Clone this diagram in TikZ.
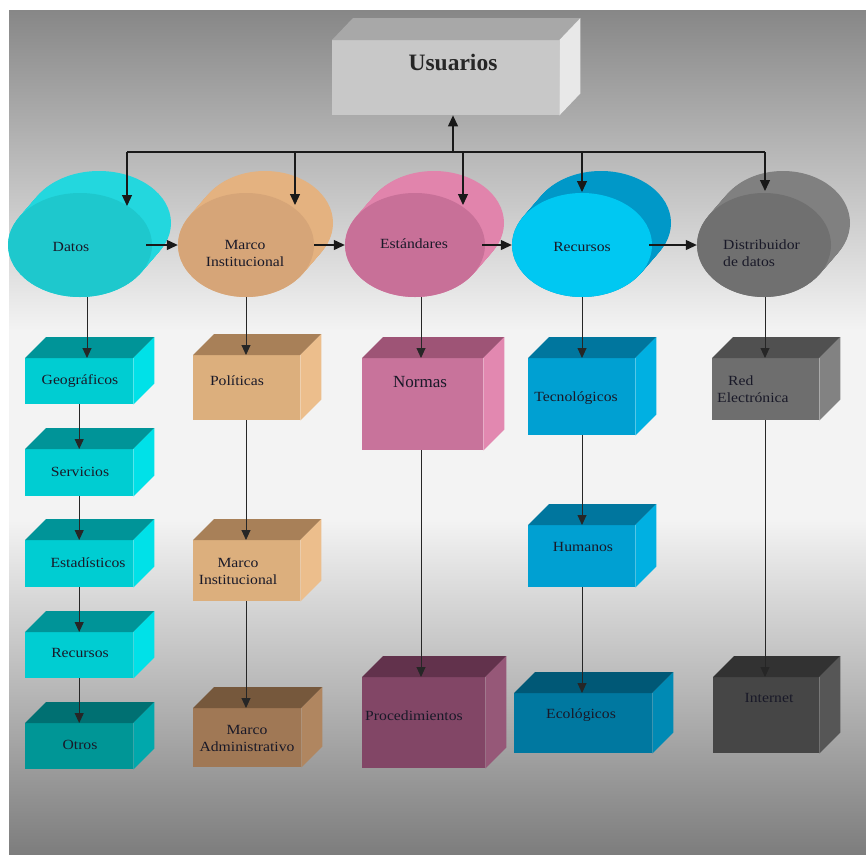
\documentclass[tikz,border=0pt]{standalone}
\usepackage{fontspec}
\setmainfont{Liberation Serif}
\newfontfamily\lblfont[FakeStretch=1.12]{Liberation Serif}
\usetikzlibrary{arrows.meta,calc,shapes.geometric}

\definecolor{bgTop}{RGB}{135,135,135}
\definecolor{bgMid}{RGB}{243,243,243}
\definecolor{bgBot}{RGB}{125,125,125}
\definecolor{txt}{RGB}{25,25,40}
% Usuarios
\definecolor{usF}{RGB}{200,200,200}
\definecolor{usT}{RGB}{168,168,168}
\definecolor{usS}{RGB}{232,232,232}
% disks
\definecolor{dDatF}{RGB}{30,200,205}
\definecolor{dDatS}{RGB}{35,215,222}
\definecolor{dMarF}{RGB}{214,165,120}
\definecolor{dMarS}{RGB}{228,178,128}
\definecolor{dEstF}{RGB}{200,112,152}
\definecolor{dEstS}{RGB}{225,132,172}
\definecolor{dRecF}{RGB}{0,200,242}
\definecolor{dRecS}{RGB}{0,152,200}
\definecolor{dDisF}{RGB}{112,112,112}
\definecolor{dDisS}{RGB}{128,128,128}
% boxes
\definecolor{cyF}{RGB}{0,205,210}
\definecolor{cyT}{RGB}{0,148,152}
\definecolor{cyS}{RGB}{0,225,232}
\definecolor{teF}{RGB}{0,150,150}
\definecolor{teT}{RGB}{0,112,114}
\definecolor{teS}{RGB}{0,168,172}
\definecolor{taF}{RGB}{220,175,125}
\definecolor{taT}{RGB}{168,128,88}
\definecolor{taS}{RGB}{236,190,140}
\definecolor{brF}{RGB}{160,120,85}
\definecolor{brT}{RGB}{118,88,60}
\definecolor{brS}{RGB}{176,134,96}
\definecolor{piF}{RGB}{200,115,155}
\definecolor{piT}{RGB}{158,84,118}
\definecolor{piS}{RGB}{226,136,176}
\definecolor{puF}{RGB}{130,70,102}
\definecolor{puT}{RGB}{98,50,76}
\definecolor{puS}{RGB}{150,88,120}
\definecolor{blF}{RGB}{0,160,210}
\definecolor{blT}{RGB}{0,118,158}
\definecolor{blS}{RGB}{0,176,226}
\definecolor{dbF}{RGB}{0,120,160}
\definecolor{dbT}{RGB}{0,88,118}
\definecolor{dbS}{RGB}{0,138,180}
\definecolor{grF}{RGB}{110,110,110}
\definecolor{grT}{RGB}{80,80,80}
\definecolor{grS}{RGB}{130,130,130}
\definecolor{dgF}{RGB}{70,70,70}
\definecolor{dgT}{RGB}{50,50,50}
\definecolor{dgS}{RGB}{86,86,86}

\tikzset{
  arr/.style={-{Triangle[length=11pt,width=10pt]}, line width=1.2pt, draw=black!90},
  carr/.style={-{Triangle[length=10pt,width=9pt]}, line width=0.9pt, draw=black!85},
  cline/.style={line width=1.2pt, draw=black!90},
  lbl/.style={font=\lblfont\fontsize{14}{17}\selectfont, text=txt, align=center, inner sep=0pt},
  facebox/.style={inner sep=0pt, anchor=north west, draw=none},
  diskface/.style={ellipse, inner sep=0pt, draw=none, minimum height=104pt},
}

% name, x1, y1, x2, y2, front, top, side
\newcommand{\cubebox}[8]{%
  \node[facebox, fill=#6, minimum width={#4-#2}, minimum height={#5-#3}] (#1) at (#2,#3) {};
  \fill[#7] (#1.north west) -- ++(21,-21) -- ($(#1.north east)+(21,-21)$) -- (#1.north east) -- cycle;
  \fill[#8] (#1.north east) -- ++(21,-21) -- ($(#1.south east)+(21,-21)$) -- (#1.south east) -- cycle;
}
% name, cx, cy, rx, front, side
\newcommand{\diskshape}[6]{%
  \foreach \i in {0,...,24}{%
    \fill[#6] ({#2+19*(1-\i/24)},{#3-22*(1-\i/24)}) ellipse [x radius=#4pt, y radius=52pt];
  }
  \node[diskface, fill=#5, minimum width={2*#4}] (#1) at (#2,#3) {};
}

\begin{document}
\begin{tikzpicture}[x=1pt,y=-1pt]
\useasboundingbox (0,0) rectangle (866,854);
% background
\fill[white] (0,0) rectangle (866,854);
\shade[top color=bgTop, bottom color=bgMid] (9,10) rectangle (866,330);
\fill[bgMid] (9,329.5) rectangle (866,520.5);
\shade[top color=bgMid, bottom color=bgBot] (9,520) rectangle (866,854);

% Usuarios
\node[facebox, fill=usF, minimum width=227, minimum height=75] (usuarios) at (332,40) {};
\fill[usT] (usuarios.north west) -- ++(21,-22) -- ($(usuarios.north east)+(21,-22)$) -- (usuarios.north east) -- cycle;
\fill[usS] (usuarios.north east) -- ++(21,-22) -- ($(usuarios.south east)+(21,-22)$) -- (usuarios.south east) -- cycle;
\node[font=\bfseries\fontsize{23.5}{26}\selectfont, text=black!85, inner sep=0pt] (tusuarios) at (453,62) {Usuarios};

% disks
\diskshape{datos}{80}{245}{72}{dDatF}{dDatS}
\diskshape{marco}{246}{245}{68}{dMarF}{dMarS}
\diskshape{est}{415}{245}{70}{dEstF}{dEstS}
\diskshape{rec}{582}{245}{70}{dRecF}{dRecS}
\diskshape{dist}{764}{245}{67}{dDisF}{dDisS}

\node[lbl] (tdatos) at (71,247) {Datos};
\node[lbl] (tmarco) at (245,253.5) {Marco\\Institucional};
\node[lbl] (test) at (414,244) {Estándares};
\node[lbl] (trec) at (582,247) {Recursos};
\node[lbl, align=left, anchor=west] (tdist) at (723,253.5) {Distribuidor\\de datos};

% boxes
\cubebox{geo}{25}{358}{133}{404}{cyF}{cyT}{cyS}
\cubebox{serv}{25}{449}{133}{496}{cyF}{cyT}{cyS}
\cubebox{esta}{25}{540}{133}{587}{cyF}{cyT}{cyS}
\cubebox{recb}{25}{632}{133}{678}{cyF}{cyT}{cyS}
\cubebox{otros}{25}{723}{133}{769}{teF}{teT}{teS}
\cubebox{pol}{193}{355}{300}{420}{taF}{taT}{taS}
\cubebox{minst}{193}{540}{300}{601}{taF}{taT}{taS}
\cubebox{madm}{193}{708}{301}{767}{brF}{brT}{brS}
\cubebox{normas}{362}{358}{483}{450}{piF}{piT}{piS}
\cubebox{proc}{362}{677}{485}{768}{puF}{puT}{puS}
\cubebox{tec}{528}{358}{635}{435}{blF}{blT}{blS}
\cubebox{hum}{528}{525}{635}{587}{blF}{blT}{blS}
\cubebox{eco}{514}{693}{652}{753}{dbF}{dbT}{dbS}
\cubebox{red}{712}{358}{819}{420}{grF}{grT}{grS}
\cubebox{inter}{713}{677}{819}{753}{dgF}{dgT}{dgS}

\node[lbl] (tgeo) at (80,381) {Geográficos};
\node[lbl] (tserv) at (80,472) {Servicios};
\node[lbl] (testa) at (88,563) {Estadísticos};
\node[lbl] (trecb) at (80,653) {Recursos};
\node[lbl] (totros) at (80,745) {Otros};
\node[lbl] (tpol) at (237,381) {Políticas};
\node[lbl] (tminst) at (238,571) {Marco\\Institucional};
\node[lbl] (tmadm) at (247,738) {Marco\\Administrativo};
\node[font=\fontsize{17}{19}\selectfont, text=txt, inner sep=0pt] (tnormas) at (420,382) {Normas};
\node[lbl] (tproc) at (414,716) {Procedimientos};
\node[lbl] (ttec) at (576,398) {Tecnológicos};
\node[lbl] (thum) at (583,547) {Humanos};
\node[lbl] (teco) at (581,715) {Ecológicos};
\node[lbl, align=left, anchor=west] (tred) at (717,389.5) {\hspace*{11pt}Red\\Electrónica};
\node[lbl] (tinter) at (769,698) {Internet};

% bus to Usuarios
\coordinate (bL) at (127,152);
\coordinate (bR) at (765,152);
\coordinate (bU) at (453,152);
\coordinate (tipA) at (127,206);
\coordinate (tipB) at (295,205);
\coordinate (tipC) at (463,205);
\coordinate (tipD) at (582,192);
\coordinate (tipE) at (765,191);
\draw[cline] (bL) -- (bR);
\draw[arr] (bU) -- (bU |- usuarios.south);
\draw[arr] (bL) -- (tipA);
\draw[arr] (tipB |- bL) -- (tipB);
\draw[arr] (tipC |- bL) -- (tipC);
\draw[arr] (tipD |- bL) -- (tipD);
\draw[arr] (bR) -- (tipE);

% disk to disk
\draw[arr] ([xshift=-6pt]datos.east) -- (marco.west);
\draw[arr] (marco.east) -- (est.west);
\draw[arr] ([xshift=-3pt]est.east) -- (rec.west);
\draw[arr] ([xshift=-3pt]rec.east) -- (dist.west);

% columns
\draw[carr] ([xshift=7pt]datos.south) -- ([xshift=7pt]datos.south |- geo.north);
\draw[carr] (geo.south) -- (serv.north);
\draw[carr] (serv.south) -- (esta.north);
\draw[carr] (esta.south) -- (recb.north);
\draw[carr] (recb.south) -- (otros.north);

\draw[carr] (marco.south) -- (marco.south |- pol.north);
\draw[carr] (marco.south |- pol.south) -- (marco.south |- minst.north);
\draw[carr] (marco.south |- minst.south) -- (marco.south |- madm.north);

\draw[carr] ([xshift=6pt]est.south) -- ([xshift=6pt]est.south |- normas.north);
\draw[carr] ([xshift=6pt]est.south |- normas.south) -- ([xshift=6pt]est.south |- proc.north);

\draw[carr] (rec.south) -- (rec.south |- tec.north);
\draw[carr] (rec.south |- tec.south) -- (rec.south |- hum.north);
\draw[carr] (rec.south |- hum.south) -- (rec.south |- eco.north);

\draw[carr] ([xshift=1pt]dist.south) -- ([xshift=1pt]dist.south |- red.north);
\draw[carr] ([xshift=1pt]dist.south |- red.south) -- ([xshift=1pt]dist.south |- inter.north);
\end{tikzpicture}
\end{document}
